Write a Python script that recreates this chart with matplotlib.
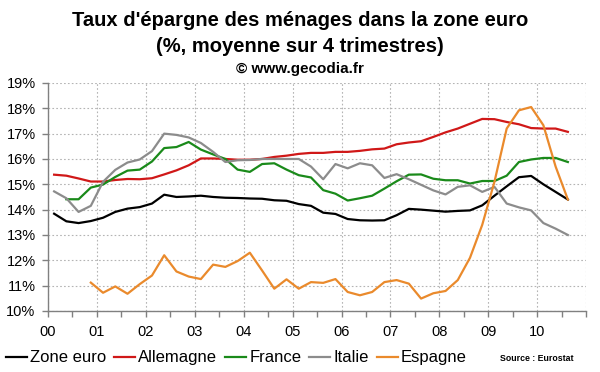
import matplotlib
matplotlib.use("Agg")
import matplotlib.pyplot as plt
from matplotlib.ticker import MultipleLocator, FixedLocator, FuncFormatter
import numpy as np

plt.rcParams['font.family'] = ['Liberation Sans', 'DejaVu Sans']

# quarterly data 2000Q1 .. 2010Q3
zone_euro = [13.84, 13.54, 13.47, 13.55, 13.68, 13.91, 14.04, 14.10, 14.24, 14.59,
             14.50, 14.52, 14.55, 14.50, 14.47, 14.46, 14.44, 14.43, 14.37, 14.35,
             14.22, 14.15, 13.88, 13.83, 13.63, 13.58, 13.57, 13.58, 13.78, 14.03,
             14.00, 13.96, 13.92, 13.95, 13.97, 14.17, 14.55, 14.92, 15.28, 15.33,
             15.00, 14.70, 14.40]
allemagne = [15.38, 15.34, 15.23, 15.11, 15.11, 15.17, 15.21, 15.20, 15.24, 15.39,
             15.55, 15.75, 16.02, 16.02, 16.00, 15.97, 15.97, 16.00, 16.08, 16.13,
             16.20, 16.24, 16.24, 16.28, 16.28, 16.32, 16.38, 16.41, 16.58, 16.65,
             16.70, 16.87, 17.05, 17.20, 17.39, 17.58, 17.57, 17.46, 17.37, 17.22,
             17.20, 17.20, 17.07]
france = [None, 14.41, 14.41, 14.87, 14.99, 15.29, 15.54, 15.58, 15.90, 16.43,
          16.47, 16.67, 16.37, 16.18, 16.00, 15.58, 15.49, 15.80, 15.83, 15.58,
          15.36, 15.27, 14.77, 14.63, 14.36, 14.45, 14.55, 14.83, 15.12, 15.38,
          15.39, 15.22, 15.16, 15.16, 15.03, 15.13, 15.13, 15.34, 15.88, 15.98,
          16.04, 16.04, 15.88]
italie = [14.72, 14.45, 13.91, 14.15, 15.10, 15.57, 15.86, 15.98, 16.31, 17.00,
          16.95, 16.85, 16.63, 16.28, 15.88, 15.95, 15.96, 16.00, 16.00, 16.00,
          16.00, 15.70, 15.20, 15.80, 15.63, 15.83, 15.75, 15.25, 15.40, 15.20,
          14.98, 14.76, 14.60, 14.90, 14.96, 14.70, 14.90, 14.24, 14.09, 13.97,
          13.47, 13.25, 13.00]
espagne = [None, None, None, 11.12, 10.72, 10.97, 10.68, 11.06, 11.40, 12.20,
           11.56, 11.36, 11.26, 11.83, 11.74, 11.97, 12.30, 11.60, 10.88, 11.25,
           10.88, 11.14, 11.11, 11.26, 10.75, 10.62, 10.75, 11.14, 11.22, 11.08,
           10.49, 10.70, 10.79, 11.22, 12.10, 13.40, 15.10, 17.20, 17.92, 18.05,
           17.33, 15.70, 14.40]

series_names = ["Zone euro", "Allemagne", "France", "Italie", "Espagne"]
series_colors = ["#000000", "#d01818", "#1a8a1a", "#8c8c8c", "#ea8a2c"]
year_labels = ["00", "01", "02", "03", "04", "05", "06", "07", "08", "09", "10"]
y_ticks = list(range(10, 20))

n = len(zone_euro)
t = np.arange(n) * 0.25 + 0.125  # years since 2000, mid-quarter

fig = plt.figure(figsize=(6.0, 3.72), dpi=100)
ax = fig.add_axes([0.08, 0.164, 0.897, 0.613])

for vals, name, col in zip([zone_euro, allemagne, france, italie, espagne],
                           series_names, series_colors):
    v = np.array([np.nan if x is None else x for x in vals], dtype=float)
    ax.plot(t, v, color=col, lw=1.6, label=name, solid_joinstyle='round')

ax.set_xlim(0, 11)
ax.set_ylim(10, 19)
ax.xaxis.set_major_locator(FixedLocator(list(range(0, 12))))
ax.xaxis.set_major_formatter(FuncFormatter(
    lambda v, p: year_labels[int(round(v))] if 0 <= int(round(v)) < len(year_labels) else ""))
ax.xaxis.set_minor_locator(MultipleLocator(0.5))
ax.yaxis.set_major_locator(FixedLocator(y_ticks))
ax.yaxis.set_major_formatter(FuncFormatter(lambda v, p: f"{int(v)}%"))

ax.grid(True, which='major', color='#b4b4b4', linestyle=(0, (1.5, 2)), lw=0.8)
ax.set_axisbelow(True)
for s in ['top', 'right']:
    ax.spines[s].set_visible(False)
for s in ['left', 'bottom']:
    ax.spines[s].set_color('#808080')
    ax.spines[s].set_linewidth(1.0)
ax.tick_params(axis='both', which='both', direction='out', color='#808080',
               length=4, width=1.0, labelsize=10.5, labelcolor='#000000')
ax.tick_params(axis='x', pad=6)
ax.tick_params(axis='y', pad=5)

fig.text(0.5, 0.945, "Taux d'épargne des ménages dans la zone euro",
         ha='center', va='center', fontsize=14.5, fontweight='bold')
fig.text(0.5, 0.875, "(%, moyenne sur 4 trimestres)",
         ha='center', va='center', fontsize=14.5, fontweight='bold')
fig.text(0.5, 0.815, "© www.gecodia.fr",
         ha='center', va='center', fontsize=11, fontweight='bold')

leg = fig.legend(loc='center', bbox_to_anchor=(0.394, 0.038), ncol=5, frameon=False,
                 fontsize=12, handlelength=1.26, handletextpad=0.18, columnspacing=0.48,
                 borderpad=0, borderaxespad=0)
fig.text(0.955, 0.035, "Source : Eurostat", ha='right', va='center',
         fontsize=6.3, fontweight='bold')

fig.savefig("out.png", dpi=100)
